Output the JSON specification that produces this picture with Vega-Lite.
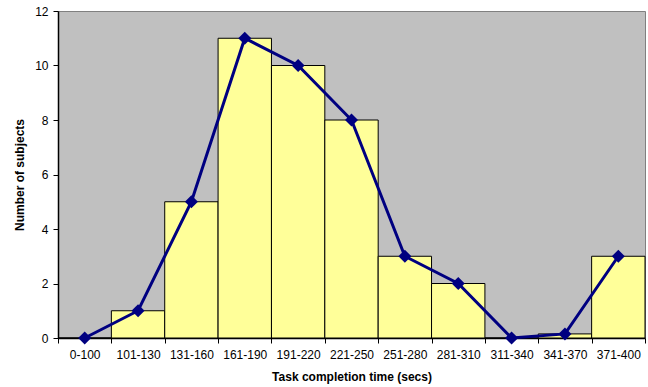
{
  "$schema": "https://vega.github.io/schema/vega-lite/v6.json",
  "width": 587,
  "height": 327,
  "autosize": {"type": "none"},
  "padding": {"left": 58, "top": 11, "right": 3, "bottom": 49},
  "background": "white",
  "config": {
    "view": {"fill": "#C0C0C0", "stroke": "#808080", "strokeWidth": 1},
    "font": "Liberation Sans",
    "axis": {"grid": false, "domainColor": "black", "tickColor": "black", "labelColor": "black", "titleColor": "black", "labelFont": "Liberation Sans", "titleFont": "Liberation Sans", "labelFontSize": 12, "titleFontSize": 12, "titleFontWeight": "bold"}
  },
  "data": {"values": [
    {"range": "0-100", "n": 0},
    {"range": "101-130", "n": 1},
    {"range": "131-160", "n": 5},
    {"range": "161-190", "n": 11},
    {"range": "191-220", "n": 10},
    {"range": "221-250", "n": 8},
    {"range": "251-280", "n": 3},
    {"range": "281-310", "n": 2},
    {"range": "311-340", "n": 0},
    {"range": "341-370", "n": 0.15},
    {"range": "371-400", "n": 3}
  ]},
  "encoding": {
    "x": {"field": "range", "type": "ordinal", "sort": null,
      "scale": {"paddingInner": 0, "paddingOuter": 0},
      "axis": {"title": "Task completion time (secs)", "labelAngle": 0, "tickBand": "extent", "tickSize": 5, "labelPadding": 6, "titlePadding": 11, "domainWidth": 1.5}},
    "y": {"field": "n", "type": "quantitative",
      "scale": {"domain": [0, 12]},
      "axis": {"title": "Number of subjects", "values": [0, 2, 4, 6, 8, 10, 12], "tickSize": 5, "labelPadding": 5, "titlePadding": 8, "domainWidth": 1.5}}
  },
  "layer": [
    {"mark": {"type": "bar", "fill": "#FFFF99", "stroke": "black", "strokeWidth": 1}},
    {"mark": {"type": "line", "color": "#000080", "strokeWidth": 3}},
    {"mark": {"type": "point", "shape": "diamond", "filled": true, "color": "#000080", "size": 170, "opacity": 1}}
  ]
}
